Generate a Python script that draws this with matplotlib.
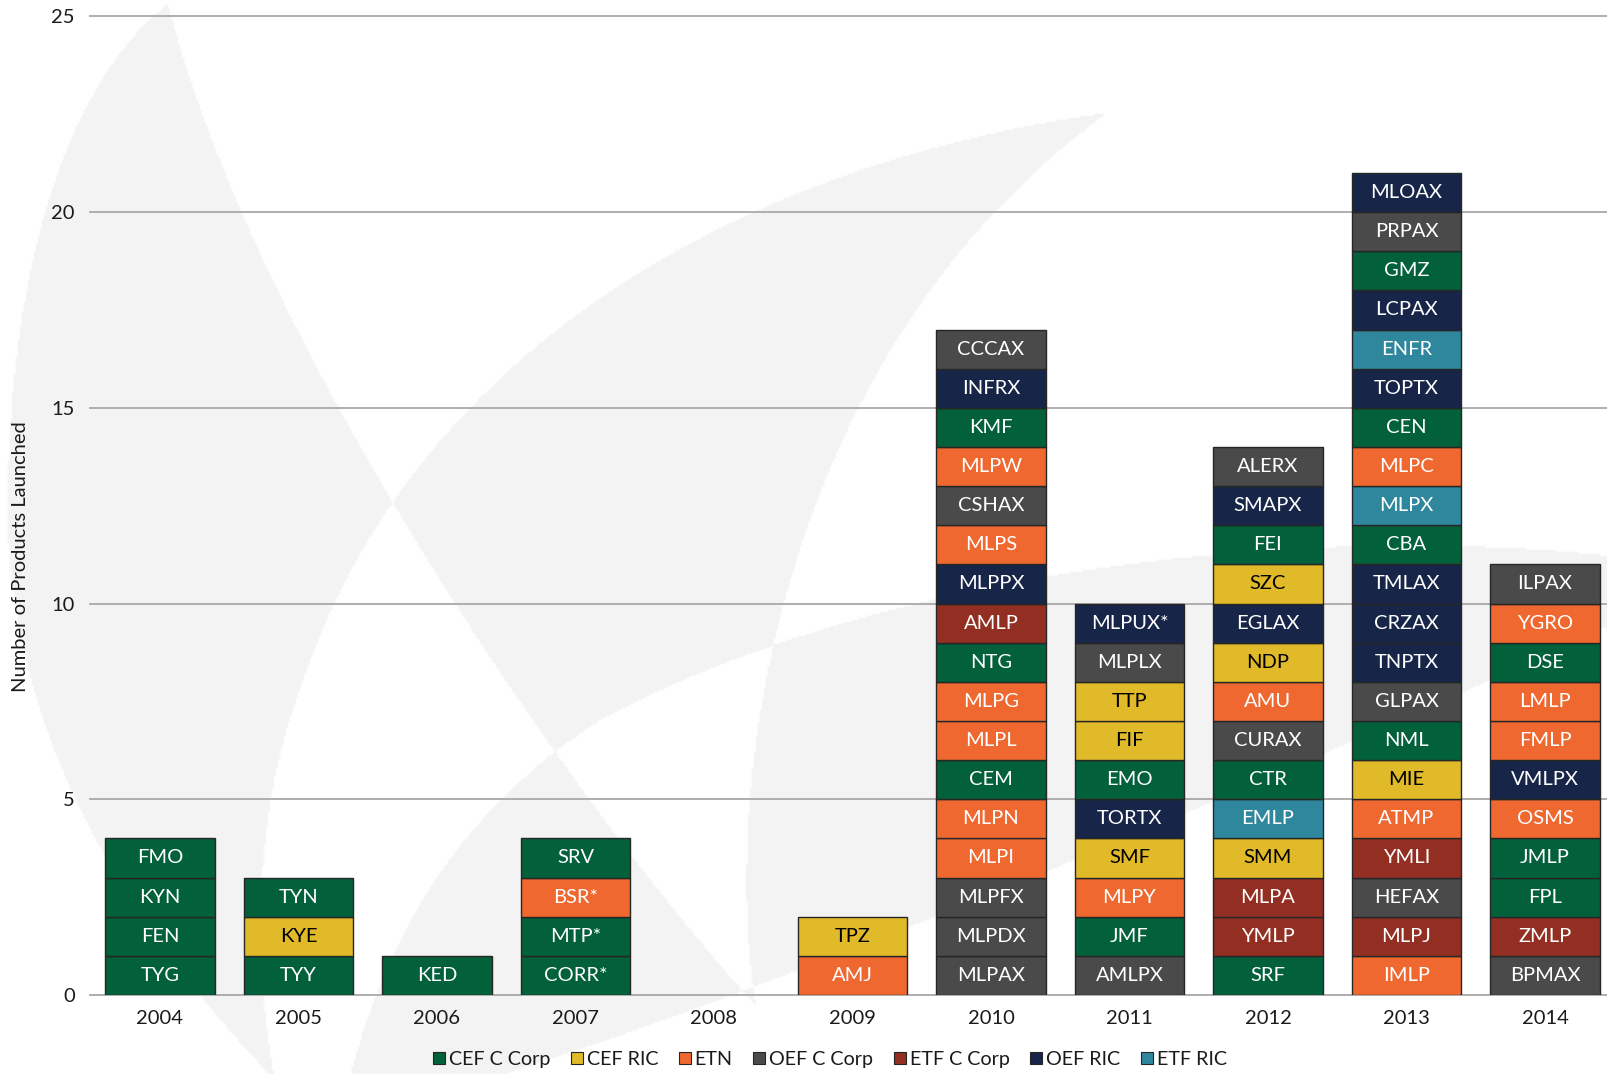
import numpy as np
import matplotlib
matplotlib.use("Agg")
import matplotlib.pyplot as plt
from matplotlib.path import Path
from matplotlib.patches import Patch

# ---------------- data ----------------
years = ["2004", "2005", "2006", "2007", "2008", "2009", "2010", "2011", "2012", "2013", "2014"]

categories = ["CEF C Corp", "CEF RIC", "ETN", "OEF C Corp", "ETF C Corp", "OEF RIC", "ETF RIC"]
cat_codes = ["CC", "CR", "ETN", "OC", "EC", "OR", "ER"]
cat_colors = ["#02603A", "#E1BA2A", "#EE6830", "#4A4A4A", "#932F22", "#172548", "#2F879E"]

# tickers listed bottom -> top, with their category codes
tickers_2004 = ["TYG", "FEN", "KYN", "FMO"]
types_2004 = ["CC", "CC", "CC", "CC"]
tickers_2005 = ["TYY", "KYE", "TYN"]
types_2005 = ["CC", "CR", "CC"]
tickers_2006 = ["KED"]
types_2006 = ["CC"]
tickers_2007 = ["CORR*", "MTP*", "BSR*", "SRV"]
types_2007 = ["CC", "CC", "ETN", "CC"]
tickers_2008 = []
types_2008 = []
tickers_2009 = ["AMJ", "TPZ"]
types_2009 = ["ETN", "CR"]
tickers_2010 = ["MLPAX", "MLPDX", "MLPFX", "MLPI", "MLPN", "CEM", "MLPL", "MLPG", "NTG",
                "AMLP", "MLPPX", "MLPS", "CSHAX", "MLPW", "KMF", "INFRX", "CCCAX"]
types_2010 = ["OC", "OC", "OC", "ETN", "ETN", "CC", "ETN", "ETN", "CC",
              "EC", "OR", "ETN", "OC", "ETN", "CC", "OR", "OC"]
tickers_2011 = ["AMLPX", "JMF", "MLPY", "SMF", "TORTX", "EMO", "FIF", "TTP", "MLPLX", "MLPUX*"]
types_2011 = ["OC", "CC", "ETN", "CR", "OR", "CC", "CR", "CR", "OC", "OR"]
tickers_2012 = ["SRF", "YMLP", "MLPA", "SMM", "EMLP", "CTR", "CURAX", "AMU", "NDP", "EGLAX",
                "SZC", "FEI", "SMAPX", "ALERX"]
types_2012 = ["CC", "EC", "EC", "CR", "ER", "CC", "OC", "ETN", "CR", "OR",
              "CR", "CC", "OR", "OC"]
tickers_2013 = ["IMLP", "MLPJ", "HEFAX", "YMLI", "ATMP", "MIE", "NML", "GLPAX", "TNPTX", "CRZAX",
                "TMLAX", "CBA", "MLPX", "MLPC", "CEN", "TOPTX", "ENFR", "LCPAX", "GMZ", "PRPAX", "MLOAX"]
types_2013 = ["ETN", "EC", "OC", "EC", "ETN", "CR", "CC", "OC", "OR", "OR",
              "OR", "CC", "ER", "ETN", "CC", "OR", "ER", "OR", "CC", "OC", "OR"]
tickers_2014 = ["BPMAX", "ZMLP", "FPL", "JMLP", "OSMS", "VMLPX", "FMLP", "LMLP", "DSE", "YGRO", "ILPAX"]
types_2014 = ["OC", "EC", "CC", "CC", "ETN", "OR", "ETN", "ETN", "CC", "ETN", "OC"]

all_tickers = [tickers_2004, tickers_2005, tickers_2006, tickers_2007, tickers_2008, tickers_2009,
               tickers_2010, tickers_2011, tickers_2012, tickers_2013, tickers_2014]
all_types = [types_2004, types_2005, types_2006, types_2007, types_2008, types_2009,
             types_2010, types_2011, types_2012, types_2013, types_2014]

y_ticks = [0, 5, 10, 15, 20, 25]
y_label = "Number of Products Launched"

# ---------------- figure ----------------
FONT = ["Lato", "DejaVu Sans"]
plt.rcParams["font.family"] = FONT

W, H = 1608, 1074
fig = plt.figure(figsize=(W / 100, H / 100), dpi=100)
fig.patch.set_facecolor("white")

# ---- faint watermark (decorative background, drawn as xor of three blades) ----
bg = fig.add_axes([0, 0, 1, 1], zorder=-10)
bg.set_xlim(0, W)
bg.set_ylim(H, 0)
bg.axis("off")

M, L, C4, CL = Path.MOVETO, Path.LINETO, Path.CURVE4, Path.CLOSEPOLY
blade_a = Path([(168, 4), (70, 80), (10, 260), (8, 500), (5, 750), (150, 950), (275, 1080),
                (756, 1006), (560, 790), (250, 330), (168, 4), (168, 4)],
               [M, C4, C4, C4, C4, C4, C4, L, C4, C4, C4, CL])
blade_b = Path([(1107, 113), (700, 170), (400, 380), (300, 690), (250, 820), (255, 980), (275, 1080),
                (756, 1006), (720, 780), (780, 350), (1107, 113), (1107, 113)],
               [M, C4, C4, C4, C4, C4, C4, L, C4, C4, C4, CL])
blade_c = Path([(1640, 560), (1350, 520), (900, 560), (600, 720), (430, 830), (370, 980), (340, 1120),
                (600, 1060), (1100, 860), (1640, 612), (1640, 560)],
               [M, C4, C4, C4, C4, C4, C4, C4, C4, C4, CL])

step = 2
gx, gy = np.meshgrid(np.arange(0, W, step) + step / 2, np.arange(0, H, step) + step / 2)
pts = np.column_stack([gx.ravel(), gy.ravel()])
mask = np.zeros(len(pts), dtype=bool)
for p in (blade_a, blade_b, blade_c):
    mask ^= p.contains_points(pts)
mask = mask.reshape(gx.shape)
img = np.where(mask, 0.95, 1.0)
bg.imshow(img, cmap="gray", vmin=0, vmax=1, extent=[0, W, H, 0], interpolation="bilinear",
          aspect="auto")

# ---- main axes ----
ax = fig.add_axes([90 / W, (H - 995) / H, 1 - 90 / W, (995 - 16.4) / H])
ax.patch.set_visible(False)

x = np.arange(len(years))
color_of = dict(zip(cat_codes, cat_colors))
for xi, (ticks, types) in enumerate(zip(all_tickers, all_types)):
    for level, (tk, tp) in enumerate(zip(ticks, types)):
        ax.bar(xi, 1, width=0.79, bottom=level, color=color_of[tp], edgecolor="#262626",
               linewidth=1.0, zorder=3)
        ax.text(xi, level + 0.5, tk, ha="center", va="center", fontsize=14.5,
                color="black" if tp == "CR" else "white", zorder=4)

ax.set_xlim(-0.505, 10.455)
ax.set_ylim(0, 25)
ax.set_yticks(y_ticks)
ax.set_xticks(x)
ax.set_xticklabels(years)
ax.tick_params(axis="both", length=0, labelsize=14.5, colors="#1a1a1a")
ax.tick_params(axis="y", pad=11)
ax.tick_params(axis="x", pad=11)
for s in ax.spines.values():
    s.set_visible(False)
ax.yaxis.grid(True, color="#A8A8A8", linewidth=1.3, zorder=0)
ax.set_axisbelow(True)
for gl in ax.get_ygridlines():
    gl.set_clip_on(False)

fig.text(21 / W, 1 - 557 / H, y_label, rotation=90, ha="center", va="center",
         fontsize=14.5, color="#1a1a1a")

handles = [Patch(facecolor=c, edgecolor="#262626", linewidth=0.8) for c in cat_colors]
fig.legend(handles, categories, loc="center", bbox_to_anchor=(0.516, 0.0135), ncol=7,
           frameon=False, fontsize=14.2, handlelength=0.6, handleheight=0.6,
           handletextpad=0.2, columnspacing=1.05, labelcolor="#1a1a1a")

fig.savefig("out.png", dpi=100, facecolor="white")
